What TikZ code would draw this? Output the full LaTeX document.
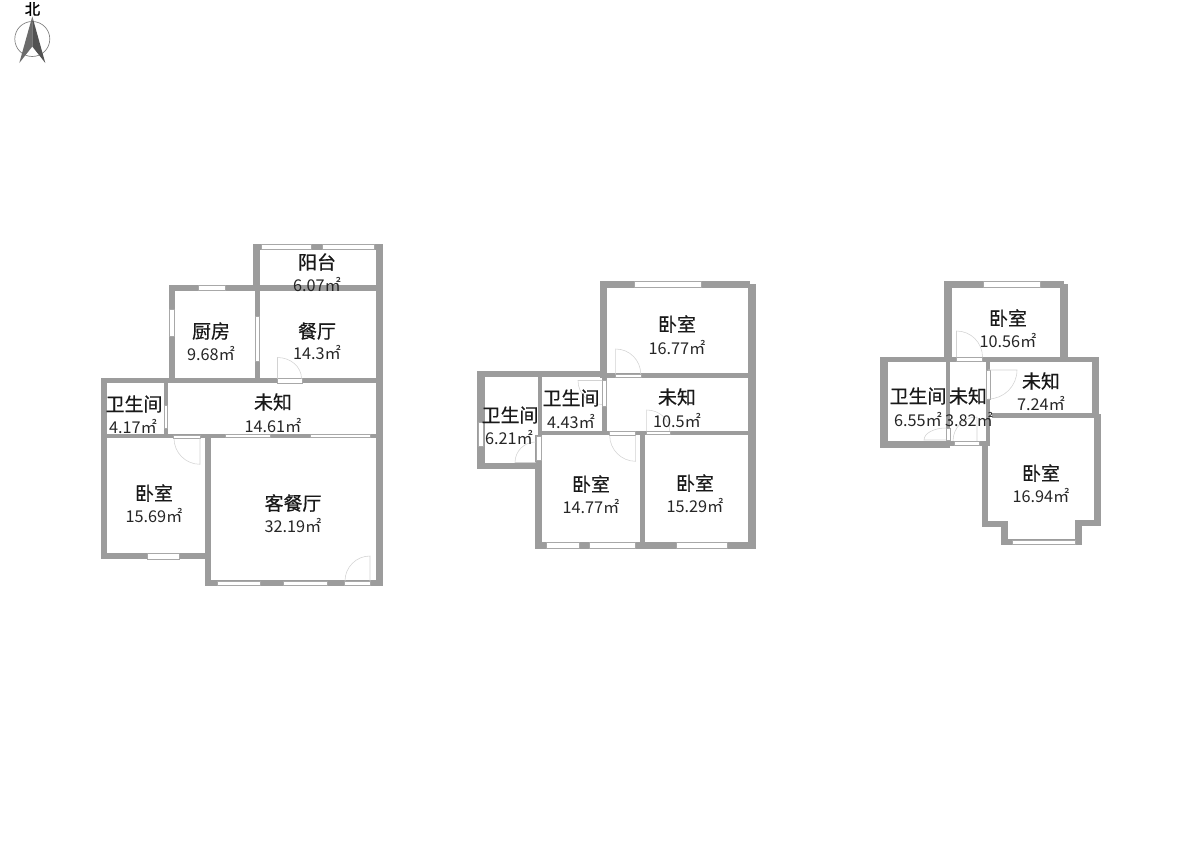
\documentclass[tikz,border=0pt]{standalone}
\usepackage{fontspec}
\setmainfont{Noto Sans CJK SC}
\newfontfamily\namefont[FakeBold=0.5]{Noto Sans CJK SC}
\newfontfamily\northfont[FakeBold=1.2]{Noto Sans CJK SC}
\definecolor{wallc}{HTML}{9C9C9C}
\definecolor{winc}{HTML}{A8A8A8}
\definecolor{doorc}{HTML}{D2D2D2}
\tikzset{
  room/.style={inner sep=0pt,font=\namefont\fontsize{14.2pt}{16pt}\selectfont,text=black!90},
  area/.style={inner sep=0pt,font=\fontsize{12.2pt}{14pt}\selectfont,text=black!85},
  wallfill/.style={fill=wallc,draw=none},
  winbox/.style={fill=white,draw=winc,line width=0.5pt},
  leaf/.style={draw=doorc,line width=0.4pt}
}
\newcommand{\wl}[4]{\fill[wallfill] (#1,#2) rectangle (#3,#4);}
\newcommand{\wn}[4]{\draw[winbox] (#1,#2) rectangle (#3,#4);}
% door leaf: hinge (c), vector a (leaf), vector b (closed end)
\newcommand{\lf}[6]{\draw[leaf] (#1,#2) -- ({#1+#3},{#2+#4}) .. controls ({#1+#3+0.5523*#5},{#2+#4+0.5523*#6}) and ({#1+#5+0.5523*#3},{#2+#6+0.5523*#4}) .. ({#1+#5},{#2+#6});}
\begin{document}
\begin{tikzpicture}[x=0.75pt,y=-0.75pt]
\useasboundingbox[fill=white] (0,0) rectangle (1200,860);
% compass
\draw[draw=black!50,line width=0.5pt] (32.3,21.5) .. controls (42,21.5) and (49.8,29.3) .. (49.8,39) .. controls (49.8,48.7) and (42,56.5) .. (32.3,56.5) .. controls (22.6,56.5) and (14.8,48.7) .. (14.8,39) .. controls (14.8,29.3) and (22.6,21.5) .. (32.3,21.5);
\fill[black!58] (32.3,16.5) -- (19.3,63) -- (32.3,46.5) -- cycle;
\fill[black!68] (32.3,16.5) -- (45.3,63) -- (32.3,46.5) -- cycle;
\node[inner sep=0pt,font=\northfont\fontsize{11.5pt}{12pt}\selectfont,text=black] (north) at (32.5,9) {北};

% ---------- left plan walls
\wl{253}{244}{383}{249.5}
\wl{253}{244}{259.5}{291}
\wl{376}{244}{383}{586}
\wl{169}{285}{376}{291}
\wl{169}{285}{175.3}{383}
\wl{255}{285}{260}{383}
\wl{101}{378.3}{383}{383.3}
\wl{100.5}{378.3}{106.7}{559}
\wl{164}{378.3}{168.3}{438}
\wl{100.5}{434}{383}{438.3}
\wl{205}{434}{210.7}{586}
\wl{100.5}{553}{210.7}{559.3}
\wl{205}{580}{383}{586}
% windows
\wn{261}{244}{311.7}{249}
\wn{322.3}{244}{374}{249}
\wn{198.3}{285.5}{225}{290.5}
\wn{169.5}{309}{174.7}{336.7}
\wn{255.5}{316}{259}{361.7}
\wn{164.5}{405}{167.5}{428.3}
\wn{225}{434.5}{270}{437.3}
\wn{310}{434.5}{370}{437.3}
\wn{147.3}{553.5}{179.3}{559}
\wn{217.3}{581}{260.7}{585.7}
\wn{283.3}{581}{327.3}{585.7}
% doors
\wn{277.5}{378.5}{302}{383}
\lf{277.5}{378.5}{0}{-21}{24}{0}
\wn{173.5}{435}{200}{438.3}
\lf{200}{438.3}{0}{26}{-26}{0}
\wn{344.3}{581}{370}{585.7}
\lf{370}{581}{0}{-25}{-25}{0}

% ---------- middle plan walls
\wl{600}{281}{750}{288.3}
\wl{600}{281}{607.3}{378}
\wl{747.7}{284}{755.5}{549.3}
\wl{607}{373.3}{755.5}{378.3}
\wl{477}{370.7}{607}{377.3}
\wl{477}{370.7}{484.7}{469.3}
\wl{537.7}{370.7}{542}{469}
\wl{601.7}{377}{606.7}{435}
\wl{538}{430.7}{755.5}{435.3}
\wl{477}{462.7}{541.7}{469.3}
\wl{535}{435}{541.7}{549.3}
\wl{640}{431}{644.7}{549.3}
\wl{535}{541.7}{755.5}{549.3}
% windows
\wn{634.3}{281.5}{701}{287.7}
\wn{602.5}{380}{606}{406.7}
\wn{478.5}{422.7}{483}{446.7}
\wn{536}{436}{541}{460.7}
\wn{546}{542.5}{579.3}{548.7}
\wn{589.3}{542.5}{635}{548.7}
\wn{676}{542.5}{727.7}{548.7}
% doors
\wn{615.7}{374}{641.7}{377.5}
\lf{615.7}{374}{0}{-25}{25}{0}
\lf{602}{380.5}{-24}{0}{0}{24}
\wn{646.7}{431}{670}{434.3}
\lf{646.7}{431}{0}{-21}{23}{0}
\wn{609.3}{431.7}{635.7}{435.3}
\lf{635.7}{435.3}{0}{26}{-26}{0}
\lf{535.5}{462.5}{-20.5}{0}{0}{-20.5}

% ---------- right plan walls
\wl{944}{281}{1064}{288.3}
\wl{944}{281}{951.7}{362}
\wl{1060}{284}{1068.3}{362}
\wl{880}{356.7}{1099}{362.3}
\wl{880}{356.7}{887.7}{448}
\wl{945.7}{356.7}{950.3}{448}
\wl{985.7}{356.7}{990}{446}
\wl{1092.3}{356.7}{1099}{417}
\wl{992}{412.5}{1099}{417.5}
\wl{880}{441}{950}{448.3}
\wl{950}{441}{988}{446}
\wl{981.7}{441}{988.3}{527}
\wl{1094}{414}{1101}{526}
\wl{981.7}{520.7}{1008.3}{527.3}
\wl{1001}{520.7}{1008.3}{545}
\wl{1001}{539.3}{1082.3}{545}
\wl{1075}{519.5}{1082.3}{545}
\wl{1075}{519.5}{1101}{526}
% windows
\wn{983.3}{281.5}{1040.7}{287.7}
\wn{986.7}{370}{990}{399}
\wn{946.3}{428}{950}{440}
\wn{1012.3}{540}{1075}{544}
% doors
\wn{956}{356.9}{982.3}{361.7}
\lf{956.5}{357}{0}{-26}{26}{0}
\lf{988}{370}{29}{0}{0}{29}
\wn{954.3}{441.3}{979}{445.7}
\lf{977}{441}{0}{-24}{-24}{0}
\lf{946}{440}{-22}{0}{0}{-12}

% ---------- labels
\node[room] (a1) at (317,262) {阳台};       \node[area] (a1v) at (317,285) {6.07㎡};
\node[room] (a2) at (211,331) {厨房};       \node[area] (a2v) at (211,354) {9.68㎡};
\node[room] (a3) at (317,331) {餐厅};       \node[area] (a3v) at (317,353) {14.3㎡};
\node[room] (a4) at (134,404) {卫生间};     \node[area] (a4v) at (133,427) {4.17㎡};
\node[room] (a5) at (273,402) {未知};       \node[area] (a5v) at (273,426) {14.61㎡};
\node[room] (a6) at (154,493) {卧室};       \node[area] (a6v) at (154,516) {15.69㎡};
\node[room] (a7) at (293,503) {客餐厅};     \node[area] (a7v) at (293,526) {32.19㎡};
\node[room] (b1) at (677,324) {卧室};       \node[area] (b1v) at (677,348) {16.77㎡};
\node[room] (b2) at (571,398) {卫生间};     \node[area] (b2v) at (571,422) {4.43㎡};
\node[room] (b3) at (677,397) {未知};       \node[area] (b3v) at (677,421) {10.5㎡};
\node[room] (b4) at (510,415) {卫生间};     \node[area] (b4v) at (509,438) {6.21㎡};
\node[room] (b5) at (591,484) {卧室};       \node[area] (b5v) at (591,507) {14.77㎡};
\node[room] (b6) at (695,483) {卧室};       \node[area] (b6v) at (695,506) {15.29㎡};
\node[room] (c1) at (1008,318) {卧室};      \node[area] (c1v) at (1008,341) {10.56㎡};
\node[room] (c2) at (918,396) {卫生间};     \node[area] (c2v) at (918,420) {6.55㎡};
\node[room] (c3) at (968,396) {未知};       \node[area] (c3v) at (969,420) {3.82㎡};
\node[room] (c4) at (1041,381) {未知};      \node[area] (c4v) at (1041,404) {7.24㎡};
\node[room] (c5) at (1041,473) {卧室};      \node[area] (c5v) at (1041,496) {16.94㎡};
\end{tikzpicture}
\end{document}
